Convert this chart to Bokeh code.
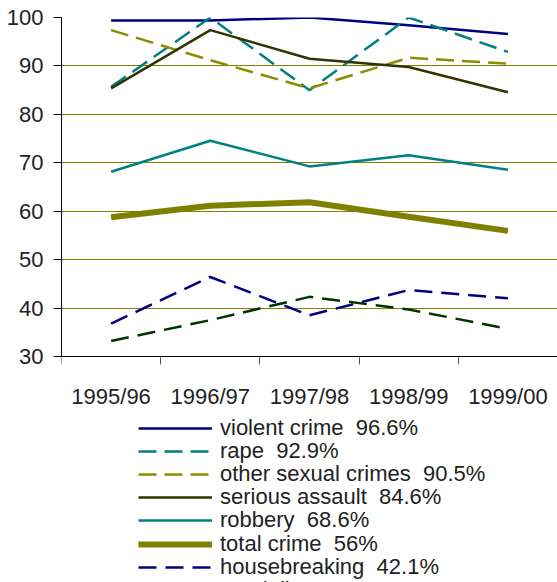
from bokeh.plotting import figure
from bokeh.models import Range1d, FixedTicker, Legend, LegendItem
from bokeh.embed import file_html
from bokeh.resources import INLINE

years = ["1995/96", "1996/97", "1997/98", "1998/99", "1999/00"]
violent_crime = [99.4, 99.4, 100.0, 98.4, 96.6]
rape = [85.7, 100.0, 85.0, 100.0, 92.9]
other_sexual_crimes = [97.4, 91.2, 85.4, 91.7, 90.5]
serious_assault = [85.4, 97.4, 91.5, 89.8, 84.6]
robbery = [68.2, 74.6, 69.3, 71.6, 68.6]
total_crime = [58.8, 61.2, 61.9, 58.9, 56.0]
housebreaking = [36.9, 46.5, 38.6, 43.8, 42.1]
vandalism = [33.3, 37.6, 42.4, 39.8, 35.8]
y_ticks = [30, 40, 50, 60, 70, 80, 90, 100]

FONT = "Liberation Sans Narrow, Liberation Sans"
FS = "22px"
W, H = 557, 582
TOP = 17
xs = list(range(len(years)))

p = figure(width=W, height=H, output_backend="svg", toolbar_location=None,
           x_range=Range1d(-0.5, 4.5), y_range=Range1d(-16.5, 100),
           min_border_left=61, min_border_right=0, min_border_top=TOP,
           min_border_bottom=0)
p.outline_line_color = None
p.background_fill_color = None
p.xgrid.grid_line_color = None
p.ygrid.grid_line_color = "#808000"
p.ygrid.grid_line_width = 1
p.ygrid.ticker = FixedTicker(ticks=y_ticks)

# y axis
ya = p.yaxis[0]
ya.ticker = FixedTicker(ticks=y_ticks)
ya.bounds = (30, 100)
ya.axis_line_color = "black"
ya.major_tick_line_color = "black"
ya.major_tick_out = 8
ya.major_tick_in = 0
ya.minor_tick_line_color = None
ya.major_label_standoff = 10
ya.major_label_text_font = FONT
ya.major_label_text_font_size = FS
ya.major_label_text_color = "#222222"

# x axis, fixed at y = 30 inside the frame
xa = p.xaxis[0]
xa.fixed_location = 30
xa.ticker = FixedTicker(ticks=xs, minor_ticks=[-0.5, 0.5, 1.5, 2.5, 3.5, 4.5])
xa.major_label_overrides = {i: y for i, y in enumerate(years)}
xa.axis_line_color = "black"
xa.major_tick_line_color = None
xa.major_tick_out = 0
xa.major_tick_in = 0
xa.minor_tick_line_color = "#555555"
xa.minor_tick_out = 8
xa.minor_tick_in = 0
xa.major_label_standoff = 19
xa.major_label_text_font = FONT
xa.major_label_text_font_size = FS
xa.major_label_text_color = "#222222"

series = [
    ("violent crime", violent_crime, "#000080", 2.5, "solid"),
    ("rape", rape, "#008080", 2.5, "18 8"),
    ("other sexual crimes", other_sexual_crimes, "#8c8c00", 2.5, "18 8"),
    ("serious assault", serious_assault, "#333300", 2.5, "solid"),
    ("robbery", robbery, "#008080", 2.5, "solid"),
    ("total crime", total_crime, "#808000", 6, "solid"),
    ("housebreaking", housebreaking, "#000080", 2.5, "18 9"),
    ("vandalism", vandalism, "#003300", 2.5, "18 9"),
]

ROW_H = 30
for i, (name, vals, col, w, dash) in enumerate(series):
    r = p.line(xs, vals, line_color=col, line_width=w, line_dash=dash)
    last = vals[-1]
    lab = f"{last:g}%"
    item = LegendItem(label=f"{name}\u00a0 {lab}", renderers=[r])
    center = 428 + 23.1 * i
    leg = Legend(items=[item], location=(77, (H - center) - ROW_H / 2),
                 orientation="vertical", padding=0, margin=0, spacing=0,
                 glyph_width=74, glyph_height=ROW_H, label_height=ROW_H,
                 label_standoff=8, border_line_color=None,
                 background_fill_alpha=0,
                 label_text_font=FONT, label_text_font_size=FS,
                 label_text_color="#222222")
    p.add_layout(leg, "center")

open("out.html", "w").write(file_html(p, INLINE))
